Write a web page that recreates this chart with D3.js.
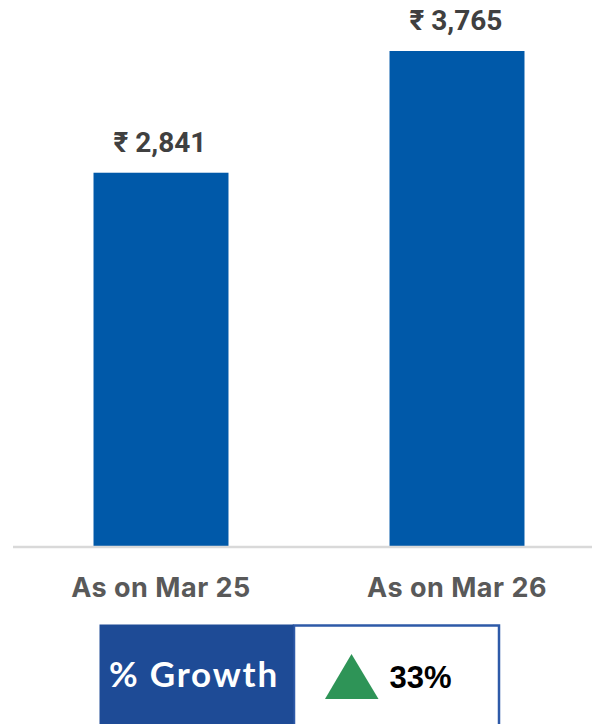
<!DOCTYPE html>
<html>
<head>
<meta charset="utf-8">
<script src="https://cdn.jsdelivr.net/npm/d3@7"></script>
<style>
  html, body { margin: 0; padding: 0; background: #ffffff; }
  svg { display: block; }
</style>
</head>
<body>
<svg id="chart" width="592" height="724"></svg>
<script>
// ---- data ----
const categories = ["As on Mar 25", "As on Mar 26"];
const values = [2841, 3765];
const valueLabels = ["₹ 2,841", "₹ 3,765"];
const growthLabel = "% Growth";
const growthValue = "33%";

// ---- layout ----
const W = 592, H = 724;
const svg = d3.select("#chart");

const x = d3.scaleBand()
  .domain(categories)
  .range([13, 605])
  .paddingInner(0.544)
  .paddingOuter(0.272);

const y = d3.scaleLinear()
  .domain([0, d3.max(values)])
  .range([547, 51]);

// bars
svg.append("g").selectAll("rect")
  .data(categories)
  .join("rect")
  .attr("x", d => x(d))
  .attr("y", (d, i) => y(values[i]))
  .attr("width", x.bandwidth())
  .attr("height", (d, i) => y(0) - y(values[i]))
  .attr("fill", "#0059A9");

// baseline axis
const xAxis = d3.axisBottom(x).tickSize(0).tickPadding(0);
const gx = svg.append("g").attr("transform", `translate(0,${y(0)})`).call(xAxis);
gx.select(".domain").remove();
gx.append("line")
  .attr("x1", 13).attr("x2", W)
  .attr("y1", 0).attr("y2", 0)
  .attr("stroke", "#D9D9D9").attr("stroke-width", 2.5);
gx.selectAll(".tick text")
  .attr("y", 50)
  .attr("dy", 0)
  .attr("fill", "#595959")
  .attr("font-family", "Inter, Roboto, sans-serif")
  .attr("font-weight", "bold")
  .attr("font-size", 27)
  .attr("letter-spacing", 0.5)
  .attr("text-anchor", "middle");
gx.selectAll(".tick text").raise();

// value labels
svg.append("g").selectAll("text")
  .data(categories)
  .join("text")
  .attr("x", d => x(d) + x.bandwidth() / 2 - 1)
  .attr("y", (d, i) => y(values[i]) - 21)
  .attr("text-anchor", "middle")
  .attr("fill", "#404040")
  .attr("font-family", "Roboto, 'DejaVu Sans', sans-serif")
  .attr("font-weight", "bold")
  .attr("font-size", 28)
  .text((d, i) => valueLabels[i]);

// growth box
const box = svg.append("g");
box.append("rect")
  .attr("x", 294).attr("y", 625.5)
  .attr("width", 205).attr("height", 120)
  .attr("fill", "#ffffff")
  .attr("stroke", "#2E5AA8").attr("stroke-width", 2.5);
box.append("rect")
  .attr("x", 99.5).attr("y", 624.5)
  .attr("width", 194).attr("height", 120)
  .attr("fill", "#1E4B96");
box.append("text")
  .attr("x", 194).attr("y", 687)
  .attr("text-anchor", "middle")
  .attr("fill", "#ffffff")
  .attr("font-family", "Lato, 'Open Sans', sans-serif")
  .attr("font-weight", "bold")
  .attr("font-size", 35)
  .attr("letter-spacing", 1.8)
  .text(growthLabel);
box.append("path")
  .attr("d", d3.line()([[325, 699], [351.5, 654], [378.5, 699]]) + "Z")
  .attr("fill", "#2E9457");
box.append("text")
  .attr("x", 389.5).attr("y", 688)
  .attr("fill", "#000000")
  .attr("font-family", "'Liberation Sans', Arial, sans-serif")
  .attr("font-weight", "bold")
  .attr("font-size", 31)
  .text(growthValue);
</script>
</body>
</html>
